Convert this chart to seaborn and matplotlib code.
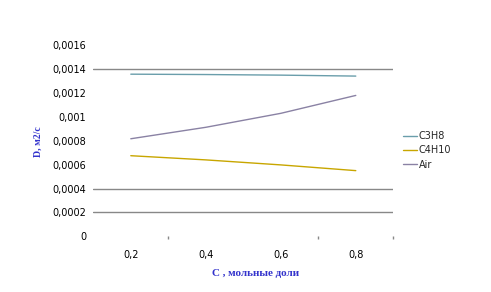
import matplotlib
matplotlib.use("Agg")
import matplotlib.pyplot as plt
import seaborn as sns
import pandas as pd
import numpy as np
from matplotlib.lines import Line2D

categories = ["0,2", "0,4", "0,6", "0,8"]
c3h8 = [0.001358, 0.001355, 0.001350, 0.001342]
c4h10 = [0.000675, 0.000640, 0.000598, 0.000550]
air = [0.000817, 0.000913, 0.001030, 0.001180]
series_names = ["C3H8", "C4H10", "Air"]
colors = {"C3H8": "#6A9EAB", "C4H10": "#C8A600", "Air": "#8A82A4"}
y_ticks = [0, 0.0002, 0.0004, 0.0006, 0.0008, 0.001, 0.0012, 0.0014, 0.0016]
y_tick_labels = ["0", "0,0002", "0,0004", "0,0006", "0,0008", "0,001", "0,0012", "0,0014", "0,0016"]
visible_grid = [0.0002, 0.0004, 0.0014]

sns.set_style("white")
plt.rcParams['font.family'] = ['DejaVu Sans']

rows = []
for name, vals in zip(series_names, [c3h8, c4h10, air]):
    for i, v in enumerate(vals):
        rows.append({"pos": i, "val": v, "series": name})
df = pd.DataFrame(rows)

fig = plt.figure(figsize=(4.91, 2.92), dpi=100)
ax = fig.add_axes([0.190, 0.1908, 0.611, 0.6541])

sns.lineplot(data=df, x="pos", y="val", hue="series", hue_order=series_names,
             palette=colors, linewidth=1.0, ax=ax, legend=False)

ax.set_xlim(-0.5, 3.5)
ax.set_ylim(0, 0.0016)
for s in ax.spines.values():
    s.set_visible(False)

ax.set_yticks(y_ticks)
ax.set_yticklabels(y_tick_labels, fontsize=7, color="black")
ax.tick_params(axis="y", length=0, pad=5)

for yv in visible_grid:
    ax.axhline(yv, color="#888888", linewidth=1.0, zorder=0)

ax.set_xticks(range(len(categories)))
ax.set_xticklabels(categories, fontsize=7, color="black")
ax.tick_params(axis="x", which="major", length=0, pad=10)
ax.set_xticks([0.5, 2.5, 3.5], minor=True)
ax.tick_params(axis="x", which="minor", bottom=True, length=2.4, width=1.0,
               color="#888888", direction="out")

ax.set_xlabel("")
ax.set_ylabel("")

fig.text(0.521, 0.065, "С , мольные доли", ha="center", va="center",
         fontsize=8, fontweight="bold", color="#3333CC", family=["Liberation Serif", "DejaVu Serif"])
fig.text(0.078, 0.514, "D, м2/с", ha="center", va="center", rotation=90,
         fontsize=7, fontweight="bold", color="#3333CC", family=["Liberation Serif", "DejaVu Serif"])

handles = [Line2D([0], [0], color=colors[n], linewidth=1.0) for n in series_names]
fig.legend(handles, series_names, loc="center left", bbox_to_anchor=(0.821, 0.4846),
           frameon=False, fontsize=7, handlelength=1.4, handletextpad=0.2,
           labelspacing=0.45, borderpad=0, borderaxespad=0)

fig.savefig("out.png", dpi=100)
